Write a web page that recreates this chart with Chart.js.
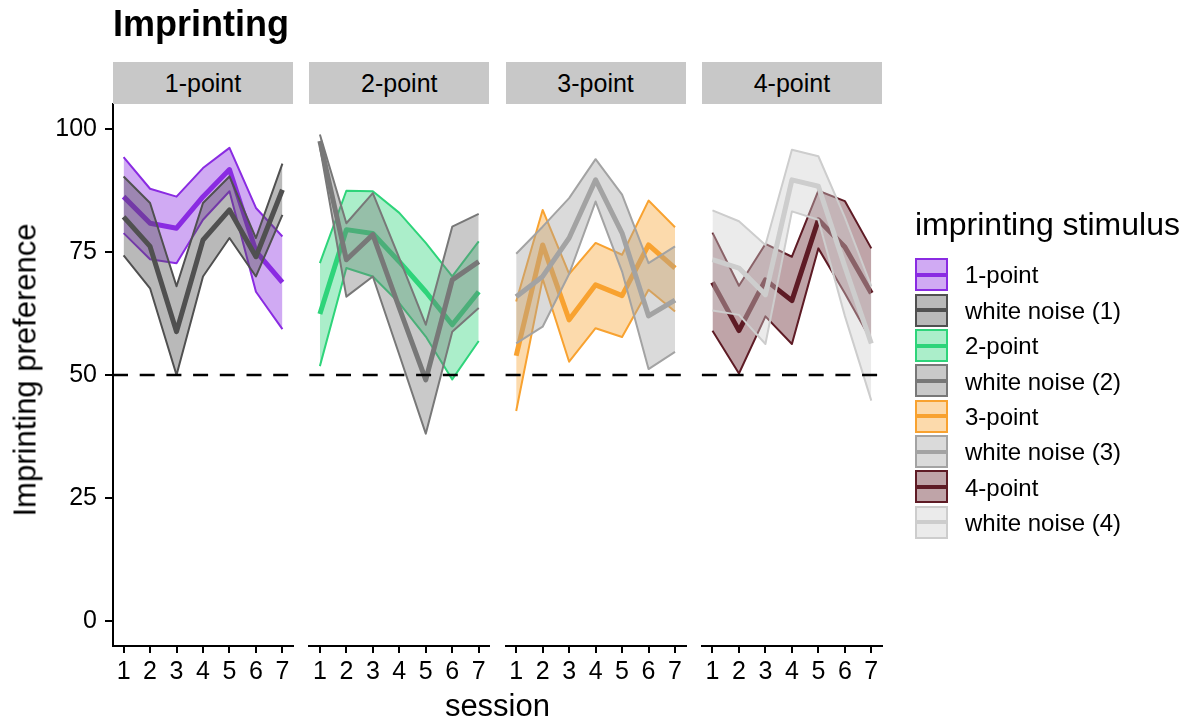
<!DOCTYPE html>
<html><head><meta charset="utf-8">
<script src="https://cdn.jsdelivr.net/npm/chart.js@4.4.1/dist/chart.umd.min.js"></script>
<style>
html,body{margin:0;padding:0;background:#fff;}
#wrap{position:relative;width:1200px;height:724px;overflow:hidden;font-family:"Liberation Sans",Arial,Helvetica,sans-serif;color:#000;background:#fff}
#wrap canvas{position:absolute;left:0;top:0}
.t{position:absolute;white-space:nowrap;line-height:1}
.strip{position:absolute;background:#c8c8c8}
.key{position:absolute;box-sizing:border-box}
.key .ln{position:absolute;left:0;right:0}
</style></head><body><div id="wrap"></div>
<script>
// ---------------- data ----------------
const SESSIONS = [1, 2, 3, 4, 5, 6, 7];
const Y_TICKS = [0, 25, 50, 75, 100];
const REF_LINE = 50;
const PANELS = ['1-point', '2-point', '3-point', '4-point'];
const SERIES_NAMES = ['1-point', 'white noise (1)', '2-point', 'white noise (2)',
                      '3-point', 'white noise (3)', '4-point', 'white noise (4)'];
const SERIES_PANEL = [0, 0, 1, 1, 2, 2, 3, 3];

const mean_1pt = [86.2, 80.8, 79.8, 86.2, 91.7, 75.1, 68.8];
const lo_1pt   = [78.8, 73.5, 72.7, 81.5, 87.3, 66.9, 59.3];
const hi_1pt   = [94.2, 87.8, 86.2, 92.0, 96.1, 83.9, 78.1];

const mean_wn1 = [82.1, 76.1, 58.8, 77.4, 83.5, 74.0, 87.6];
const lo_wn1   = [74.3, 67.6, 50.0, 70.0, 77.8, 70.0, 82.5];
const hi_wn1   = [90.3, 84.9, 68.0, 84.9, 90.3, 77.8, 92.9];

const mean_2pt = [62.4, 79.5, 78.7, 73.0, 66.9, 60.2, 66.9];
const lo_2pt   = [51.8, 71.7, 70.0, 64.6, 57.8, 49.1, 56.9];
const hi_2pt   = [72.7, 87.4, 87.3, 82.9, 76.8, 70.0, 77.1];

const mean_wn2 = [97.5, 73.4, 78.5, 63.6, 49.0, 69.3, 73.0];
const lo_wn2   = [96.3, 65.9, 70.0, 54.1, 38.1, 58.8, 63.6];
const hi_wn2   = [98.8, 80.8, 86.9, 73.7, 60.2, 80.1, 82.7];

const mean_3pt = [53.9, 76.4, 61.2, 68.3, 66.1, 76.4, 71.7];
const lo_3pt   = [42.7, 69.5, 52.7, 59.5, 57.7, 67.3, 62.9];
const hi_3pt   = [64.9, 83.5, 70.5, 76.8, 74.4, 85.4, 80.0];

const mean_wn3 = [65.9, 70.0, 77.8, 89.6, 78.8, 62.0, 65.2];
const lo_wn3   = [56.4, 59.8, 70.5, 85.2, 71.0, 51.2, 54.7];
const hi_wn3   = [74.6, 80.1, 85.9, 93.8, 86.6, 72.7, 76.1];

const mean_4pt = [68.8, 59.0, 69.3, 65.1, 81.5, 76.0, 66.6];
const lo_4pt   = [59.0, 50.3, 61.9, 56.3, 75.7, 66.6, 57.0];
const hi_4pt   = [78.9, 68.1, 76.6, 74.0, 87.4, 85.3, 75.7];

const mean_wn4 = [73.4, 71.7, 66.3, 89.6, 88.3, 72.0, 56.4];
const lo_wn4   = [63.1, 62.2, 56.3, 83.2, 81.5, 62.0, 44.8];
const hi_wn4   = [83.4, 81.2, 76.4, 95.7, 94.4, 82.0, 68.0];

const SERIES_MEAN = [mean_1pt, mean_wn1, mean_2pt, mean_wn2, mean_3pt, mean_wn3, mean_4pt, mean_wn4];
const SERIES_LO   = [lo_1pt, lo_wn1, lo_2pt, lo_wn2, lo_3pt, lo_wn3, lo_4pt, lo_wn4];
const SERIES_HI   = [hi_1pt, hi_wn1, hi_2pt, hi_wn2, hi_3pt, hi_wn3, hi_4pt, hi_wn4];

// ---------------- style ----------------
const SERIES_COLORS = ['#8A2BE2', '#505050', '#2ED47A', '#787878', '#F8A230', '#A3A3A3', '#5E1B25', '#CDCDCD'];
const FILL_ALPHA = 0.4;
const FONT = '"Liberation Sans", Arial, Helvetica, sans-serif';

const PLOT_LEFT = 113, PANEL_STEP = 196.3, PANEL_W = 180;
const PLOT_TOP = 104, PLOT_BOTTOM = 646;
const X_AXIS_H = 50, Y_AXIS_W = 113;
const W = 1200, H = 724;

function rgba(hex, a) {
  const n = parseInt(hex.slice(1), 16);
  return `rgba(${(n >> 16) & 255},${(n >> 8) & 255},${n & 255},${a})`;
}
const pts = arr => SESSIONS.map((x, k) => ({ x: x, y: arr[k] }));

const wrap = document.getElementById('wrap');
function addText(txt, x, baseline, size, opts = {}) {
  const d = document.createElement('div');
  d.className = 't';
  d.textContent = txt;
  d.style.fontSize = size + 'px';
  if (opts.bold) d.style.fontWeight = 'bold';
  const top = baseline - 0.8465 * size;
  d.style.top = top + 'px';
  if (opts.align === 'center') { d.style.left = x + 'px'; d.style.transform = 'translateX(-50%)'; }
  else d.style.left = x + 'px';
  wrap.appendChild(d);
  return d;
}

const refPlugin = {
  id: 'refLine',
  afterDatasetsDraw(chart) {
    const { ctx, chartArea: a, scales: { y } } = chart;
    const py = y.getPixelForValue(REF_LINE);
    ctx.save();
    ctx.strokeStyle = '#000';
    ctx.lineWidth = 2.6;
    ctx.setLineDash([15, 11.7]);
    ctx.beginPath();
    ctx.moveTo(a.left, py);
    ctx.lineTo(a.right, py);
    ctx.stroke();
    ctx.restore();
  }
};

PANELS.forEach((pname, p) => {
  const cv = document.createElement('canvas');
  cv.width = W; cv.height = H;
  cv.style.width = W + 'px'; cv.style.height = H + 'px';
  wrap.appendChild(cv);
  const left = PLOT_LEFT + p * PANEL_STEP;
  const datasets = [];
  let order = 100;
  SERIES_NAMES.forEach((name, s) => {
    if (SERIES_PANEL[s] !== p) return;
    const col = SERIES_COLORS[s];
    const base = datasets.length;
    const common = { pointRadius: 0, tension: 0, borderJoinStyle: 'round', borderCapStyle: 'butt', clip: false };
    datasets.push(Object.assign({ label: name + ' upper', data: pts(SERIES_HI[s]), borderColor: col, borderWidth: 2,
      backgroundColor: rgba(col, FILL_ALPHA), fill: base + 1, order: order-- }, common));
    datasets.push(Object.assign({ label: name + ' lower', data: pts(SERIES_LO[s]), borderColor: col, borderWidth: 2,
      fill: false, order: order-- }, common));
    datasets.push(Object.assign({ label: name, data: pts(SERIES_MEAN[s]), borderColor: col, borderWidth: 5,
      fill: false, order: order-- }, common));
  });

  new Chart(cv, {
    type: 'line',
    data: { datasets },
    plugins: [refPlugin],
    options: {
      responsive: false, animation: false, devicePixelRatio: 1,
      layout: { padding: { left: p === 0 ? 0 : left, right: W - (left + PANEL_W), top: PLOT_TOP, bottom: H - PLOT_BOTTOM - X_AXIS_H } },
      plugins: { legend: { display: false }, tooltip: { enabled: false }, title: { display: false } },
      scales: {
        x: {
          type: 'linear', min: 0.6, max: 7.4,
          afterBuildTicks: sc => { sc.ticks = SESSIONS.map(v => ({ value: v })); },
          afterFit: sc => { sc.height = X_AXIS_H; sc.paddingLeft = 0; sc.paddingRight = 0; },
          grid: { drawOnChartArea: false, drawTicks: true, tickLength: 7, color: '#000', lineWidth: 2 },
          border: { display: true, color: '#000', width: 2 },
          ticks: { color: '#000', font: { family: FONT, size: 25 }, padding: 4, maxRotation: 0, autoSkip: false,
                   callback: v => String(v) }
        },
        y: {
          type: 'linear', min: -5, max: 105, display: p === 0,
          afterBuildTicks: sc => { sc.ticks = Y_TICKS.map(v => ({ value: v })); },
          afterFit: sc => { sc.width = p === 0 ? Y_AXIS_W : 0; },
          grid: { drawOnChartArea: false, drawTicks: true, tickLength: 8, color: '#000', lineWidth: 2 },
          border: { display: true, color: '#000', width: 2 },
          ticks: { color: '#000', font: { family: FONT, size: 25 }, padding: 8, callback: v => String(v) }
        }
      }
    }
  });

  // strip
  const st = document.createElement('div');
  st.className = 'strip';
  st.style.left = left + 'px'; st.style.top = '62px';
  st.style.width = PANEL_W + 'px'; st.style.height = '41.5px';
  wrap.appendChild(st);
  addText(pname, left + PANEL_W / 2, 92, 25, { align: 'center' });
});

// titles
addText('Imprinting', 113, 36, 36, { bold: true });
addText('session', (PLOT_LEFT + PLOT_LEFT + 3 * PANEL_STEP + PANEL_W) / 2, 716, 31, { align: 'center' });
const yt = document.createElement('div');
yt.className = 't';
yt.textContent = 'Imprinting preference';
yt.style.fontSize = '31px';
yt.style.left = '24.5px'; yt.style.top = '370px';
yt.style.transform = 'translate(-50%,-50%) rotate(-90deg)';
wrap.appendChild(yt);

// legend
addText('imprinting stimulus', 915, 235, 32);
SERIES_NAMES.forEach((name, s) => {
  const top = 258.3 + s * 35.35;
  const k = document.createElement('div');
  k.className = 'key';
  const col = SERIES_COLORS[s];
  k.style.left = '915px'; k.style.top = top + 'px';
  k.style.width = '33px'; k.style.height = '33px';
  k.style.border = '2px solid ' + col;
  k.style.background = rgba(col, FILL_ALPHA);
  const ln = document.createElement('div');
  ln.className = 'ln';
  ln.style.top = '12.5px'; ln.style.height = '4px'; ln.style.background = col;
  k.appendChild(ln);
  wrap.appendChild(k);
  addText(name, 965, top + 16.5 + 9, 24);
});
</script>
</body></html>
